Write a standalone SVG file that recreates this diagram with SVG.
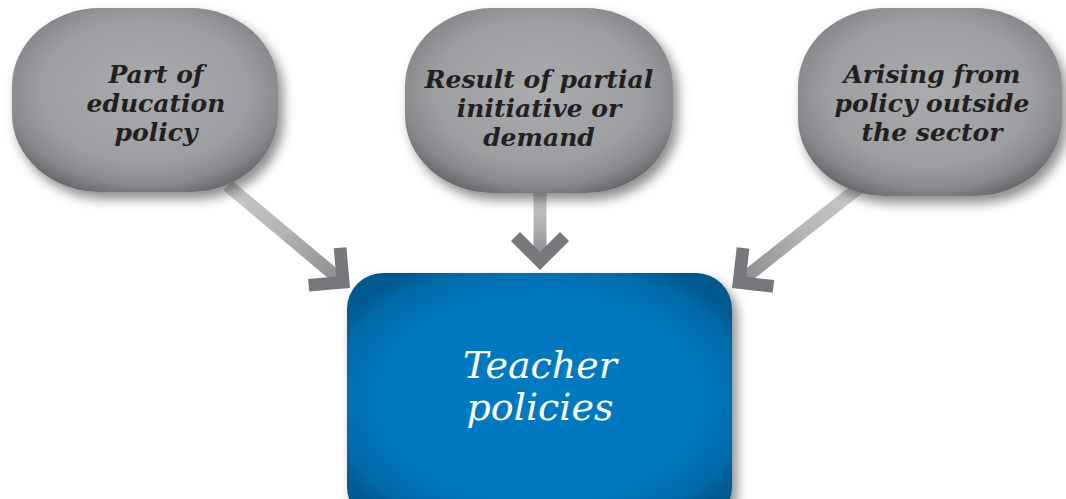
<svg xmlns="http://www.w3.org/2000/svg" width="1066" height="499" viewBox="0 0 1066 499">
<defs>
<radialGradient id="gGray" cx="50%" cy="45%" r="60%">
<stop offset="0" stop-color="#a9abae"/>
<stop offset="0.65" stop-color="#9c9ea1"/>
<stop offset="0.85" stop-color="#888a8d"/>
<stop offset="1" stop-color="#66676a"/>
</radialGradient>
<radialGradient id="gBlue" cx="50%" cy="50%" r="60%">
<stop offset="0" stop-color="#007ac2"/>
<stop offset="0.7" stop-color="#0077be"/>
<stop offset="0.9" stop-color="#006aa9"/>
<stop offset="1" stop-color="#005a90"/>
</radialGradient>
<linearGradient id="gShaft" x1="0" y1="0" x2="1" y2="0">
<stop offset="0" stop-color="#c9cacc"/>
<stop offset="0.5" stop-color="#b3b4b6"/>
<stop offset="1" stop-color="#8c8d90"/>
</linearGradient>
<filter id="shadow" x="-20%" y="-20%" width="140%" height="150%">
<feDropShadow dx="5" dy="7" stdDeviation="6" flood-color="#000" flood-opacity="0.45"/>
</filter>
<polygon id="head" points="0,0 -29,-29 -38,-20 -18,0 -38,20 -29,29"/>
</defs>
<style>
.node{fill:url(#gGray);filter:url(#shadow)}
.lbl{font-family:"DejaVu Serif",serif;font-weight:bold;font-style:italic;font-size:25px;fill:#231f20;text-anchor:middle}
.big{font-family:"DejaVu Serif",serif;font-style:italic;font-size:38px;fill:#ffffff;text-anchor:middle}
.shaft{fill:url(#gShaft)}
.hd{fill:#77787b}
</style>
<rect width="1066" height="499" fill="#ffffff"/>
<g id="connectors">
<g transform="translate(350,288) rotate(40)">
<rect class="shaft" x="-160" y="-6.5" width="146" height="13"/>
<use href="#head" class="hd"/>
</g>
<g transform="translate(540,270) rotate(90)">
<rect class="shaft" x="-80" y="-6.5" width="66" height="13"/>
<use href="#head" class="hd"/>
</g>
<g transform="translate(732,288) rotate(141.6)">
<rect class="shaft" x="-162" y="-6.5" width="148" height="13"/>
<use href="#head" class="hd"/>
</g>
</g>
<g id="node-education">
<rect class="node" x="12" y="8" width="266" height="184" rx="88" ry="78"/>
<text class="lbl" x="156" y="83">Part of</text>
<text class="lbl" x="156" y="112">education</text>
<text class="lbl" x="156" y="141">policy</text>
</g>
<g id="node-partial">
<rect class="node" x="405" y="8" width="268" height="185" rx="88" ry="78"/>
<text class="lbl" x="539" y="88">Result of partial</text>
<text class="lbl" x="539" y="117">initiative or</text>
<text class="lbl" x="539" y="146">demand</text>
</g>
<g id="node-outside">
<rect class="node" x="798" y="8" width="264" height="188" rx="88" ry="78"/>
<text class="lbl" x="932" y="83">Arising from</text>
<text class="lbl" x="932" y="112">policy outside</text>
<text class="lbl" x="932" y="141">the sector</text>
</g>
<g id="node-teacher">
<rect x="347" y="273" width="385" height="250" rx="36" ry="36" fill="url(#gBlue)" filter="url(#shadow)"/>
<text class="big" x="540" y="378">Teacher</text>
<text class="big" x="540" y="420">policies</text>
</g>
</svg>
